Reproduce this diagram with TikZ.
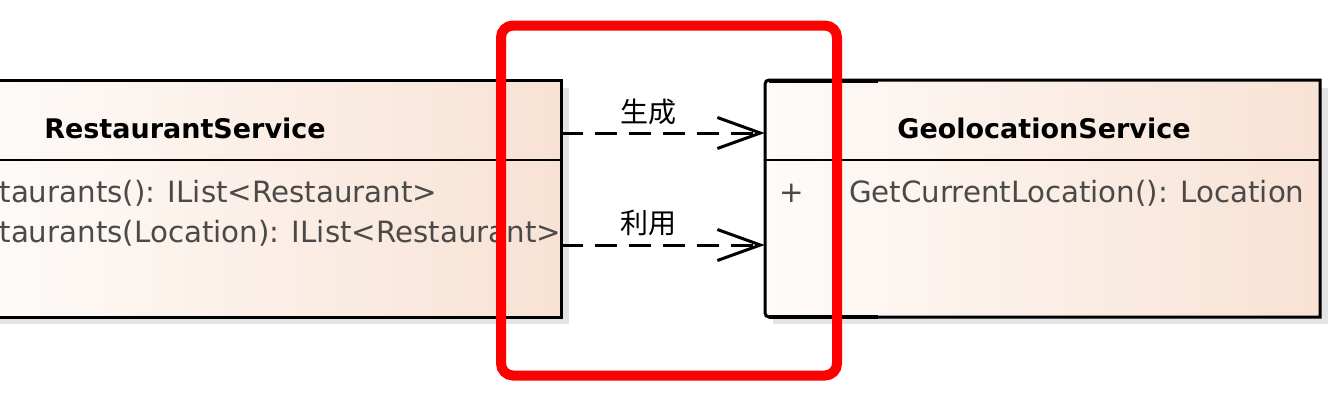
\documentclass[tikz,border=0pt]{standalone}
\usepackage{fontspec}
\setmainfont{DejaVu Sans}
\newfontfamily\cjk{Noto Sans CJK JP}
\usetikzlibrary{arrows.meta,calc}
\definecolor{memgray}{HTML}{4A4A4A}
\definecolor{shadowgray}{HTML}{E4E4E4}
\definecolor{fillL}{HTML}{FEFBF9}
\definecolor{fillR}{HTML}{F8E2D4}
\tikzset{
  classbox/.style={draw=black, line width=3pt, left color=fillL, right color=fillR},
  divider/.style={draw=black, line width=2.5pt},
  header/.style={font=\fontsize{27}{32}\selectfont\bfseries, text=black, inner sep=0pt},
  member/.style={font=\fontsize{29.3}{34}\selectfont, text=memgray, inner sep=0pt},
  dep/.style={draw=black, line width=3pt, dash pattern=on 22pt off 12pt,
     -{Straight Barb[length=43pt,width=31pt,line width=3pt]}},
  deplabel/.style={font=\cjk\fontsize{28}{32}\selectfont, text=black, inner sep=0pt},
  highlight/.style={draw=red, line width=10pt, rounded corners=12pt}
}
\begin{document}
\begin{tikzpicture}[x=1pt,y=-1pt]
\useasboundingbox (0,0) rectangle (1335,400);
% shadows
\fill[shadowgray] (-20,88) rectangle (569,324);
\fill[shadowgray] (773,88) rectangle (1328,324);
% left class box
\path[classbox] (-20,80) rectangle (561,317);
\node[inner sep=0pt, minimum width=581pt, minimum height=237pt] (L) at (270.5,198.5) {};
\draw[divider] (-20,160) -- (561,160);
\node[header] (Lname) at (185,128) {RestaurantService};
\node[member, anchor=east] (Lm2) at (561.5,233) {taurants(Location): IList<Restaurant>};
\node[member, anchor=west] (Lm1) at (Lm2.west |- 0,193) {taurants(): IList<Restaurant>};
% right class box
\path[classbox] (1320,80) -- (1320,317) -- (769,317) arc[start angle=270, end angle=180, radius=4pt]
   -- (765,84) arc[start angle=180, end angle=90, radius=4pt] -- cycle;
\node[inner sep=0pt, minimum width=555pt, minimum height=237pt] (R) at (1042.5,198.5) {};
\draw[divider] (765,160) -- (1320,160);
\draw[line width=4pt] (769,80.5) -- (878,80.5);
\draw[line width=4pt] (769,316.5) -- (878,316.5);
\node[header] (Rname) at (1044,128) {GeolocationService};
\node[member] (Rplus) at (792,193) {+};
\node[member, anchor=west] (Rm1) at (849,193) {GetCurrentLocation(): Location};
% dependencies
\coordinate (a1) at (L.east |- 0,133);
\coordinate (b1) at (R.west |- 0,133);
\coordinate (a2) at (L.east |- 0,245);
\coordinate (b2) at (R.west |- 0,245);
\draw[dep] (a1) -- (b1);
\draw[dep] (a2) -- (b2);
\node[deplabel] (lab1) at (648,112) {生成};
\node[deplabel] (lab2) at (648,223) {利用};
% highlight
\draw[highlight] (501,25.5) rectangle (837,375.5);
\end{tikzpicture}
\end{document}
